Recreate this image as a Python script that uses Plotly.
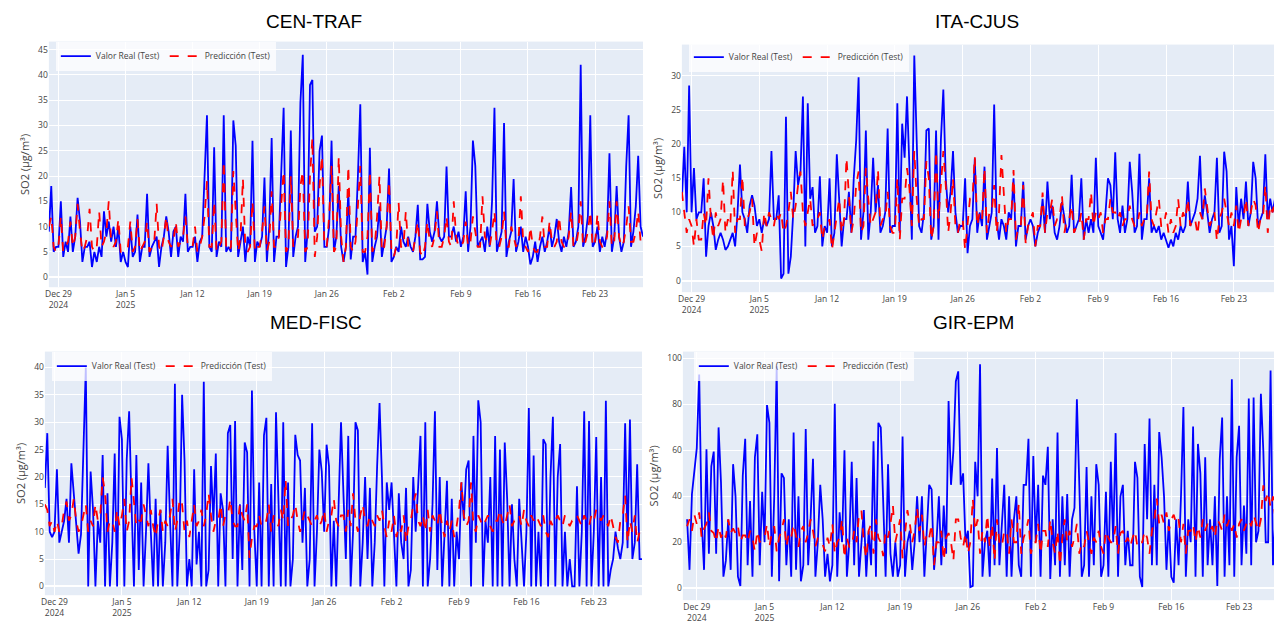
import pandas as pd
import plotly.graph_objects as go

W, H = 1274, 623
START = "2024-12-28 00:00"

# ---- data (6-hour samples from 2024-12-28 00:00) ----
cen_real = [9, 18, 5, 6, 6, 15, 4, 7, 5, 12, 5, 8, 15.7, 11, 3, 6,
            6, 7, 2, 5, 3, 6, 4, 13, 8, 11, 7, 10, 6, 10, 3, 5, 3, 2, 10, 4, 5, 12.4, 3, 6,
            6, 16.5, 4, 6, 7, 8, 2, 6, 8, 12, 9, 4, 9, 10, 4, 8, 7, 16.5, 5, 6, 6, 8, 3, 7,
            8, 20, 32, 6, 5, 25.7, 4, 7, 6, 32, 5, 6, 5, 31, 26, 4, 7, 10, 3, 8, 6, 27, 3, 7,
            6, 8, 19.7, 3, 10, 27.5, 3, 8, 8, 20, 33.5, 2, 6, 29, 4, 8, 10, 34.5, 44, 3,
            9, 38, 39, 9, 10, 25, 28, 6, 6, 10, 27, 5, 8, 18, 6, 3, 6, 17, 3.5, 8,
            8, 20, 34.2, 3, 5, 0.5, 25.6, 3, 6, 8, 14, 4,
            7, 10, 21.5, 3, 4, 6, 5, 10, 7, 6, 8, 6, 5, 8, 14.3, 3.5, 3.5, 4, 14.5, 9,
            7, 9, 15, 8, 7, 8, 21.9, 8, 8, 10, 7, 9, 6, 8, 17, 5, 10, 27, 22, 6, 7, 8, 5, 10,
            6, 15, 33.5, 5, 7, 9, 30.5, 4, 7, 9, 19.4, 5, 7, 10, 5, 8, 6, 2.5, 4, 7,
            3, 6, 8, 5, 7, 10, 6, 8, 11.5, 7, 5, 8, 6, 9, 17.8, 6, 7, 10, 42, 6, 8, 12, 32, 6,
            7, 10, 5, 8, 6, 9, 24.5, 5, 8, 18, 8, 5, 7, 22, 32, 6, 9, 14, 24, 10, 8]
cen_pred = [10, 12, 6, 5, 6, 12, 5, 6, 7, 11, 6, 8, 14.5, 9, 5, 6,
            8, 13.5, 6, 5, 6, 13, 6, 7, 9, 15, 7, 6, 7, 11.5, 5, 5, 5, 6, 11, 5, 6, 11.5, 5, 6,
            7, 11, 5, 6, 7, 14.5, 6, 5, 8, 12, 7, 6, 7, 11, 6, 7, 8, 12, 6, 6, 6, 10, 5, 6,
            8, 12, 19, 6, 6, 15, 5, 6, 7, 23, 6, 5, 6, 21, 12, 5, 8, 19.5, 6, 5, 6, 15, 5, 6,
            6, 9, 14, 5, 7, 17, 6, 6, 8, 14, 21, 5, 6, 20, 6, 7, 8, 18, 21, 5,
            6, 20, 27.5, 4, 8, 18, 24, 6, 6, 12, 22, 5, 6, 23.8, 8, 3, 6, 22, 6, 5,
            7, 14, 22, 5, 5, 8, 21, 5, 6, 12, 20, 5,
            6, 10, 19, 5, 4, 6, 14.7, 6, 6, 13, 6, 5, 5, 8, 11, 5, 4, 6, 11, 7,
            6, 8, 13, 6, 6, 8, 12, 7, 6, 15, 8, 6, 6, 7, 11, 6, 7, 12, 9, 6, 6, 16, 8, 7,
            6, 9, 13, 6, 6, 8, 13, 6, 6, 10, 8, 6, 7, 16, 7, 6, 5, 10, 6, 5,
            5, 8, 12, 6, 6, 11, 7, 6, 7, 12, 7, 6, 6, 8, 13, 6, 6, 9, 15, 6, 7, 9, 13, 6,
            7, 12.5, 7, 6, 6, 8, 15, 6, 7, 15, 8, 6, 7, 10, 14, 7, 7, 9, 13, 7, 7]

ita_real = [12, 19.6, 10, 28.6, 10, 16.5, 9, 10, 10, 15, 3.5, 8, 10, 8, 4.5, 6,
            7, 6, 4.5, 5, 6, 7, 5, 10, 17, 10, 9, 7, 11, 12.5, 11, 8, 9, 7, 9, 8, 9, 19, 9, 9,
            12.5, 0.3, 1, 24, 1, 3.5, 10, 19, 14, 16, 27, 5, 26, 12, 13.7, 7, 8, 15.3, 5, 8,
            7, 15, 5, 7, 18.5, 12, 5, 9, 9, 13, 7, 15, 20.5, 29.8, 6, 10, 22, 6, 10, 18,
            10, 14, 7, 8, 10, 22.3, 7, 8, 8, 26, 7, 23, 18, 27, 16, 6, 33, 21, 8, 7,
            10, 22, 22.3, 6, 8, 22, 6, 20.7, 28, 15, 10, 13, 19, 10, 7, 8, 8, 15, 4, 8,
            9, 17.9, 7, 10, 8, 16.7, 6, 8, 10, 25.8, 9, 6, 9, 8, 6, 10, 9, 15, 5, 8,
            8, 14.5, 6, 8, 9, 8, 5, 7, 8, 12, 7, 14.5, 9, 11, 7, 6, 8, 11.5, 9, 7,
            8, 15.5, 7, 8, 9, 15, 6, 9, 7, 9, 7, 18, 8, 7, 6, 10, 15, 14, 9, 18.8,
            9, 7, 11, 7, 9, 17.4, 13, 7, 8, 18.6, 6, 9, 9, 15, 7, 8, 7, 8, 6, 7,
            6, 4.8, 6, 5, 7, 6, 8, 7, 8, 14.5, 8, 9, 10, 12, 18.3, 9, 12.5, 10, 7, 9,
            10, 18, 7, 8, 18.9, 16, 6, 8, 2.1, 13.7, 8, 12, 9, 14.5, 8, 10,
            17.4, 15, 8, 9, 10, 18.5, 9, 12, 10, 12, 9, 10, 9]
ita_pred = [13, 10, 7, 9, 8, 5, 9, 6, 6, 10, 8, 15, 9, 6, 10, 8,
            9, 14.8, 7, 9, 8, 16.2, 7, 9, 9, 15.3, 8, 9, 10, 12, 5, 7, 6, 4.3, 10, 8, 10, 9, 8, 10,
            9, 10, 7, 8, 10, 13, 9, 11, 14, 16, 10, 8, 10, 12, 8, 9, 9, 10, 6, 8,
            8, 9, 4.5, 7, 9, 12, 7, 9, 18, 12, 7, 9, 14, 16, 7, 8, 16.5, 12, 8, 9,
            10, 16.3, 8, 9, 9, 13, 8, 7, 7, 15, 6, 12, 12, 16.5, 13.5, 8, 19, 12, 8, 9,
            9, 17.5, 15, 6, 8, 19, 9, 14, 19, 14, 7, 10, 15, 8, 7, 9, 9, 4.5, 8, 12,
            12, 18.2, 8, 10, 9, 16.5, 7, 10, 10, 14, 7, 10, 18.4, 12, 7, 9, 9, 16.2, 6, 8,
            8, 14, 5.5, 8, 9, 10, 5, 8, 8, 12.9, 7, 10, 10, 12, 8, 9, 9, 12.5, 7, 9,
            9, 11, 7, 8, 8, 10, 6, 9, 9, 13, 8, 10, 9, 10, 7, 9, 9, 12, 10, 10,
            9, 10, 8, 9, 9, 11, 9, 8, 8, 10, 8, 9, 9, 16, 9, 8, 10, 12, 8, 8,
            10, 7, 9, 7, 8, 12, 8, 10, 9, 12, 8, 9, 9, 6.7, 10, 9, 13.5, 11, 8, 9,
            10, 5.8, 9, 10, 12, 10, 8, 10, 8, 11, 7, 9, 9, 12, 8, 10,
            12, 11, 7, 9, 9, 14, 7, 11, 10, 12, 9, 10, 10]

med_real = [18, 28, 10, 9, 10, 21.4, 8, 10, 12, 16, 8, 22.5, 17, 10, 6, 9.5,
            24, 40, 0, 21, 14, 0, 12, 8, 24, 0, 17, 0, 8, 24.3, 0, 31, 26.9, 0, 23.2, 32,
            15, 0, 24, 3, 19, 0, 10, 22.5, 10, 0, 16, 0, 14, 0, 8, 25.7, 12, 0, 37, 0,
            10, 35, 23, 0, 5, 0, 21.4, 4, 10, 0, 37.4, 0, 3, 22, 12, 24.3, 0, 17, 14, 0,
            28, 29.5, 5, 30.2, 0, 15, 3, 26.3, 24.5, 0, 35.8, 10, 0, 19, 0, 27.6,
            30.8, 0, 18.7, 0, 31.8, 17, 0, 30, 0, 19, 0, 5, 27.7, 24, 23, 8,
            18, 0, 5, 29.8, 0, 10, 25, 21, 10, 25.9, 22, 0, 12, 0, 14, 30, 17, 5, 27.5, 0,
            10, 30, 28.5, 0, 8, 20, 5, 18, 0, 8, 22, 33.5,
            20, 0, 19, 14, 19, 10, 0, 17, 8, 5, 18, 0, 3, 20, 10, 18, 27.5, 0, 30, 0,
            5, 15, 32, 3, 20, 0, 10, 19.3, 0, 16, 0, 10, 5, 19, 12, 21.4, 23, 0, 27.5, 8,
            34, 30, 0, 12, 8, 20, 0, 27.5, 0, 25, 0, 26.3, 16, 0, 15, 5, 0, 16, 8, 0,
            10, 32.6, 0, 23.9, 0, 10, 0, 26.9, 26, 0, 20, 31, 0, 20, 26, 0, 10, 0, 5, 0,
            0, 18.3, 0, 10, 32, 0, 30.2, 0, 10, 27.3, 0, 20, 0, 33.9, 0, 3,
            5, 10, 7, 5, 8, 29.8, 7, 30.5, 5, 8, 22.3, 5, 5]
med_pred = [15, 14, 11, 12, 10, 12, 10, 11, 14, 15.5, 12, 13, 16, 12, 10, 11,
            13, 15, 10, 12, 11, 15, 12, 13, 19.9, 17, 10, 12, 12, 10, 14, 11, 13, 16, 10, 12,
            19.9, 15, 11, 12, 12, 15, 13, 11, 14, 11, 9, 12, 14, 10, 12, 11, 13, 16, 10, 12,
            16, 15, 10, 12, 9, 12, 15, 11, 12, 14, 11, 13, 17, 13, 10, 12, 12, 15, 11, 13,
            13, 16, 12, 11, 11, 15, 13, 12, 15, 5.2, 9, 11, 11, 13, 11, 12,
            12, 15, 10, 13, 12, 11, 14, 12, 19.5, 11, 12, 13, 15, 12, 10, 12,
            14, 13, 12, 11, 12, 13, 11, 12, 14, 10, 12, 13, 16, 12, 11, 13, 13, 10, 14, 11,
            17, 12, 10, 13, 15, 12, 11, 13, 12, 11, 13, 12,
            14, 11, 9, 12, 10, 13, 9, 11, 10, 13, 8, 11, 12, 15, 17, 12, 11, 13, 10, 14,
            10, 13, 12, 11, 14, 11, 9, 12, 10, 12, 9, 11, 14, 19, 13, 11, 12, 19, 11, 10,
            13, 12, 11, 12, 13, 11, 10, 12, 12, 14, 12, 11, 13, 15, 11, 12, 12, 13, 11, 14,
            12, 11, 13, 12, 13, 12, 11, 13, 10, 9, 12, 11, 12, 13, 12, 11, 13, 12, 11, 12,
            12, 13, 12, 11, 13, 12, 11, 13, 12, 14, 13, 12, 13, 12, 11, 13,
            11, 9, 8, 12, 13, 16.6, 8, 12, 10, 13, 8, 10, 9]

gir_real = [30, 8, 41, 52, 61, 93, 30, 8, 60.5, 15, 53, 59.5, 15, 70, 46, 5,
            12, 30, 8, 54, 40, 5, 1, 49, 65, 10, 38, 5, 57, 67, 10, 42, 20, 79.7, 72, 5,
            40, 96.6, 3, 50, 48, 10, 30, 5, 67.8, 8, 40, 3, 10, 69.3, 10, 30, 56.3, 5, 20, 45,
            30, 5, 15, 3, 10, 80.3, 5, 33, 20, 60, 5, 20, 55, 10, 48, 5, 20, 34, 5, 25,
            10, 64, 5, 72, 70, 40, 5, 54, 15, 5, 20, 5, 10, 66, 5, 20, 25, 8, 20, 40,
            20, 40, 5, 25, 45, 43, 8, 20, 40, 10, 36, 15, 81.5, 45, 60, 90, 94.4, 45, 50, 20,
            25, 0.5, 1, 55, 40, 97.5, 5, 20, 25, 5, 47.7, 10, 61, 10, 30, 45,
            5, 40, 5, 30, 40, 10, 5, 45,
            45, 65, 5, 57.5, 20, 45, 5, 49, 45, 61.6, 4, 30, 10, 67.8, 5, 40, 10, 41, 5, 30,
            35, 82.2, 45, 5, 10, 52.7, 5, 40, 10, 54, 45, 5, 10, 42, 5, 55, 20, 67.5, 5, 40,
            45, 10, 25, 10, 10, 55, 48, 5, 0.5, 62.8, 30, 73.9, 10, 45, 10, 68, 57, 40, 8, 30,
            5, 2.4, 30, 10, 40, 78.9, 5, 30, 20, 70.4, 5, 62.8, 50, 5, 57, 10, 30, 10, 40, 1,
            56, 74.3, 5, 40, 10, 91, 5, 57, 70.7, 10, 36, 15, 82.6, 10, 83, 20,
            25, 84.6, 60, 20, 20, 94.8, 10, 30, 25, 30, 20, 25, 25]
gir_pred = [27, 30, 25, 32, 28, 33, 22, 26, 28, 33, 25, 24, 20, 27, 22, 25,
            22, 30, 24, 26, 24, 27, 20, 23, 23, 20, 25, 22, 16, 25, 20, 22, 22, 28, 18, 24,
            27, 16, 22, 25, 30, 18, 24, 22, 28, 23, 18, 25, 27, 20, 24, 30, 25, 18, 22, 20,
            19, 16, 22, 18, 28, 15, 20, 22, 30, 13, 22, 18, 18, 25, 20, 32, 34, 20, 13, 25,
            28, 15, 30, 22, 20, 14, 25, 22, 28, 36.2, 20, 25, 30, 13, 25, 34, 28, 20, 25, 35,
            25, 32, 18, 24, 22, 28, 10, 20, 20, 25, 12, 22, 24, 20, 12, 30, 30, 22, 18, 24,
            15, 20, 39, 25, 30, 15, 25, 20, 32, 18, 28, 12, 30, 20, 18, 25,
            25, 15, 30, 20, 20, 37, 15, 22,
            25, 30, 15, 20, 20, 28, 15, 25, 25, 18, 30, 20, 15, 25, 10, 22, 30, 20, 25, 18,
            22, 28, 15, 20, 18, 25, 20, 15, 22, 20, 25, 18, 15, 25, 22, 20, 20, 27, 15, 24,
            25, 20, 22, 18, 22, 25, 18, 20, 20, 25, 22, 15, 25, 30, 39, 28, 32, 28, 33, 25,
            30, 32, 28, 30, 20, 28, 15, 25, 25, 28, 20, 27, 22, 30, 25, 28, 25, 27, 22, 30,
            28, 25, 32, 27, 30, 25, 28, 22, 28, 30, 25, 28, 30, 27, 32, 28,
            25, 30, 44.8, 38, 42, 35, 40, 30, 30, 28, 32, 30, 30]

stations = ["CEN-TRAF", "ITA-CJUS", "MED-FISC", "GIR-EPM"]
series_real = [cen_real, ita_real, med_real, gir_real]
series_pred = [cen_pred, ita_pred, med_pred, gir_pred]
y_dticks = [5, 5, 5, 20]

# ---- layout geometry (pixels) ----
# (x0, x1, ytop, ybottom), x range, y range, title centre, legend corner
panels = [
    dict(px=(45, 641), py=(42, 290), xr=("2024-12-28 00:00", "2025-02-28 00:00"), yr=(-2, 46.6),
         title=(311, 22), leg=(52, 42)),
    dict(px=(680, 1274), py=(45, 295), xr=("2024-12-28 00:00", "2025-02-27 03:30"), yr=(-1.7, 34.6),
         title=(976, 22), leg=(687, 43)),
    dict(px=(41, 640), py=(355, 601), xr=("2024-12-28 00:00", "2025-02-28 00:00"), yr=(-1.6, 42.9),
         title=(313, 326), leg=(48, 355)),
    dict(px=(681, 1274), py=(355, 606), xr=("2024-12-27 13:30", "2025-02-26 14:30"), yr=(-5.2, 103),
         title=(973, 326), leg=(692, 355)),
]

fig = go.Figure()
layout = dict(
    width=W, height=H, margin=dict(l=0, r=0, t=0, b=0),
    template="plotly", plot_bgcolor="#E5ECF6", paper_bgcolor="white",
    font=dict(family="Open Sans, verdana, arial, sans-serif", color="#444"),
    annotations=[],
)

for i, (name, real, pred, p) in enumerate(zip(stations, series_real, series_pred, panels)):
    k = "" if i == 0 else str(i + 1)
    xa, ya, lg = "x" + k, "y" + k, "legend" + k
    xr_real = pd.date_range(START, periods=len(real), freq="6h")
    xr_pred = pd.date_range(START, periods=len(pred), freq="6h")
    fig.add_trace(go.Scatter(x=xr_real, y=real, mode="lines", name="Valor Real (Test)",
                             line=dict(color="blue", width=1.8), xaxis=xa, yaxis=ya, legend=lg))
    fig.add_trace(go.Scatter(x=xr_pred, y=pred, mode="lines", name="Predicción (Test)",
                             line=dict(color="red", width=1.8, dash="dash"), xaxis=xa, yaxis=ya, legend=lg))
    x0, x1 = p["px"]
    yt, yb = p["py"]
    layout["xaxis" + k] = dict(
        domain=[x0 / W, x1 / W], anchor=ya, range=list(p["xr"]), type="date",
        tick0="2024-12-29", dtick=7 * 86400000, tickfont=dict(size=8.5),
        gridcolor="white", showline=False, zeroline=False,
    )
    layout["yaxis" + k] = dict(
        domain=[1 - yb / H, 1 - yt / H], anchor=xa, range=list(p["yr"]),
        dtick=y_dticks[i], tickfont=dict(size=8.5), gridcolor="white",
        zeroline=True, zerolinecolor="white", zerolinewidth=2,
        title=dict(text="SO2 (µg/m³)", font=dict(size=11), standoff=6),
    )
    lx, ly = p["leg"]
    layout[lg] = dict(
        orientation="h", x=lx / W, y=1 - ly / H, xanchor="left", yanchor="top",
        bgcolor="rgba(255,255,255,0.75)", font=dict(size=8.5, color="#444"),
        tracegroupgap=0, itemwidth=30,
    )
    tx, ty = p["title"]
    layout["annotations"].append(dict(
        text=name, x=tx / W, y=1 - ty / H, xref="paper", yref="paper",
        xanchor="center", yanchor="middle", showarrow=False,
        font=dict(family="Arial, Liberation Sans, sans-serif", size=19, color="black"),
    ))

fig.update_layout(**layout)
fig.write_html("out.html")
